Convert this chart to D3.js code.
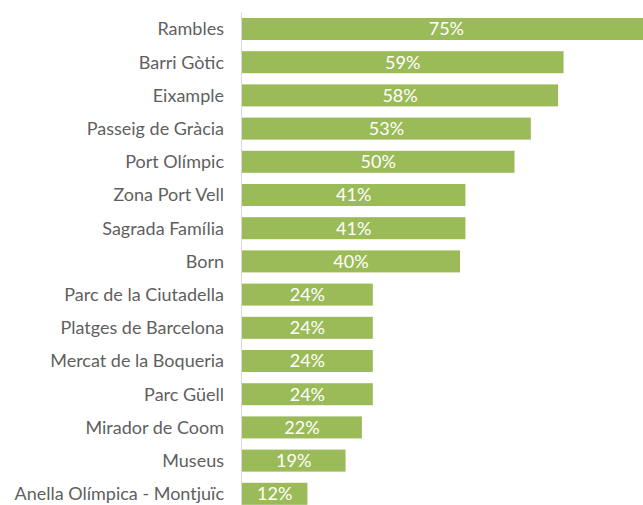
<!DOCTYPE html>
<html>
<head>
<meta charset="utf-8">
<script src="https://cdn.jsdelivr.net/npm/d3@7"></script>
<style>
  html, body { margin: 0; padding: 0; background: #ffffff; overflow: hidden; }
  svg { display: block; }
</style>
</head>
<body>
<svg id="chart" width="643" height="505"></svg>
<script>
// Places visited in Barcelona, share of respondents
const places = [
  "Rambles",
  "Barri Gòtic",
  "Eixample",
  "Passeig de Gràcia",
  "Port Olímpic",
  "Zona Port Vell",
  "Sagrada Família",
  "Born",
  "Parc de la Ciutadella",
  "Platges de Barcelona",
  "Mercat de la Boqueria",
  "Parc Güell",
  "Mirador de Coom",
  "Museus",
  "Anella Olímpica - Montjuïc"
];
const shares = [0.75, 0.59, 0.58, 0.53, 0.50, 0.41, 0.41, 0.40, 0.24, 0.24, 0.24, 0.24, 0.22, 0.19, 0.12];

const data = places.map((p, i) => ({ place: p, value: shares[i] }));

const svg = d3.select("#chart");
const fontFamily = "Lato, 'Open Sans', sans-serif";

const left = 242;
const x = d3.scaleLinear().domain([0, 1]).range([left, left + 545]);
const y = d3.scaleBand()
  .domain(places)
  .range([12.4, 12.4 + places.length * 33.2])
  .paddingInner(0.337)
  .paddingOuter(0.168);

// bars
svg.append("g")
  .selectAll("rect")
  .data(data)
  .join("rect")
  .attr("x", x(0))
  .attr("y", d => y(d.place))
  .attr("width", d => x(d.value) - x(0))
  .attr("height", y.bandwidth())
  .attr("fill", "#9bbb59");

// category axis
const yAxis = svg.append("g")
  .attr("transform", `translate(${left - 1},0)`)
  .call(d3.axisLeft(y).tickSize(0).tickPadding(17));
yAxis.select(".domain")
  .attr("stroke", "#d9d9d9")
  .attr("stroke-width", 1)
  .attr("d", `M0.5,${y.range()[0]}V${y.range()[1]}`);
yAxis.selectAll("text")
  .attr("fill", "#5f5f5f")
  .style("font-family", fontFamily)
  .style("font-size", "18px")
  .attr("dy", "0.36em");

// value labels, centred inside each bar
svg.append("g")
  .selectAll("text")
  .data(data)
  .join("text")
  .attr("x", d => (x(0) + x(d.value)) / 2)
  .attr("y", d => y(d.place) + y.bandwidth() / 2)
  .attr("dy", "0.36em")
  .attr("text-anchor", "middle")
  .attr("fill", "#ffffff")
  .style("font-family", fontFamily)
  .style("font-size", "18px")
  .text(d => d3.format(".0%")(d.value));
</script>
</body>
</html>
